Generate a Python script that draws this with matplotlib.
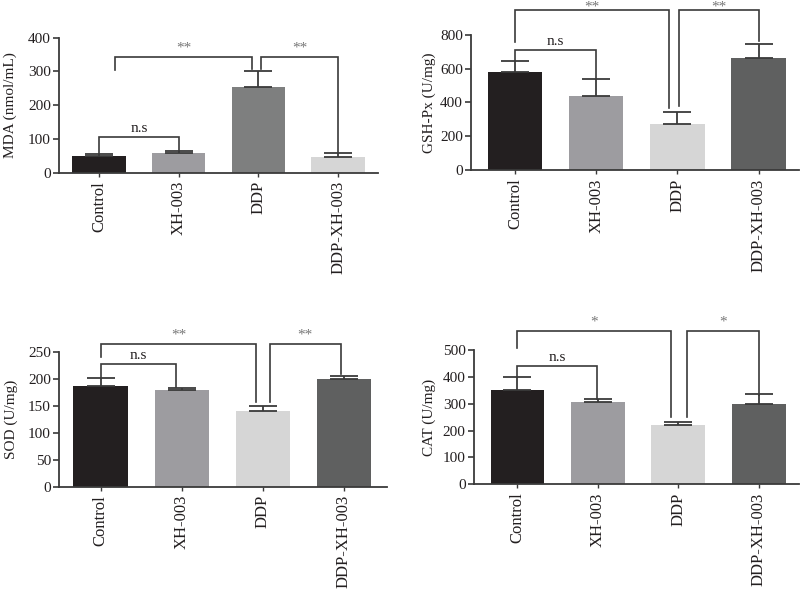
import matplotlib
matplotlib.use("Agg")
import matplotlib.pyplot as plt
import numpy as np

plt.rcParams['font.family'] = ['Liberation Serif', 'DejaVu Serif']

categories = ["Control", "XH-003", "DDP", "DDP-XH-003"]

mda_mean = [49, 58, 254, 46]
mda_err = [6, 6, 46, 13]
gsh_mean = [581, 440, 274, 665]
gsh_err = [65, 101, 71, 80]
sod_mean = [187, 178.5, 140.5, 200]
sod_err = [14, 5, 9, 5.5]
cat_mean = [351, 305, 220, 299]
cat_err = [49, 13, 13, 38]

mda_yticks = [0, 100, 200, 300, 400]
gsh_yticks = [0, 200, 400, 600, 800]
sod_yticks = [0, 50, 100, 150, 200, 250]
cat_yticks = [0, 100, 200, 300, 400, 500]

BLACK = "#231f20"
MID = "#9d9ca0"
LIGHT = "#d6d6d6"
DARK = "#5f6060"
DGRAY = "#7e7f7f"
LINE = "#3a3a3a"

panels = [
    dict(mean=mda_mean, err=mda_err, ylabel="MDA (nmol/mL)", yticks=mda_yticks,
         colors=[BLACK, MID, DGRAY, LIGHT], labelpad=8,
         rect=[0.0741, 0.7073, 0.3984, 0.2288], xlim=(-0.5, 3.5),
         brackets=[(0, 1, 107, 55, 64, "n.s"), (0.2, 1.92, 343, 304, 306, "**"),
                   (2.03, 3.0, 343, 306, 62, "**")]),
    dict(mean=gsh_mean, err=gsh_err, ylabel="GSH-Px (U/mg)", yticks=gsh_yticks,
         colors=[BLACK, MID, LIGHT, DARK], labelpad=3,
         rect=[0.589, 0.7119, 0.41, 0.2288], xlim=(-0.54, 3.5),
         brackets=[(0, 1, 711, 646, 541, "n.s"), (0, 1.9, 946, 761, 370, "**"),
                   (2.02, 3.0, 946, 379, 766, "**")]),
    dict(mean=sod_mean, err=sod_err, ylabel="SOD (U/mg)", yticks=sod_yticks,
         colors=[BLACK, MID, LIGHT, DARK], labelpad=7.5,
         rect=[0.0741, 0.1751, 0.4093, 0.2288], xlim=(-0.51, 3.53),
         brackets=[(0, 0.93, 226.7, 200.7, 185, "n.s"), (0, 1.92, 263.7, 240.7, 157, "**"),
                   (2.09, 2.96, 263.7, 157, 208.7, "**")]),
    dict(mean=cat_mean, err=cat_err, ylabel="CAT (U/mg)", yticks=cat_yticks,
         colors=[BLACK, MID, LIGHT, DARK], labelpad=5,
         rect=[0.5925, 0.1792, 0.4065, 0.2276], xlim=(-0.54, 3.5),
         brackets=[(0, 0.99, 441.6, 400, 317, "n.s"), (0, 1.91, 571, 506, 252, "*"),
                   (2.1, 3.0, 571, 252, 332, "*")]),
]

fig = plt.figure(figsize=(8, 5.9), dpi=100)

for i, p in enumerate(panels):
    ax = fig.add_axes(p["rect"])
    x = np.arange(len(categories))
    ax.bar(x, p["mean"], width=0.67, color=p["colors"], edgecolor="none", zorder=2)
    ax.errorbar(x, p["mean"], yerr=[np.zeros(len(x)), p["err"]], fmt="none",
                ecolor=LINE, elinewidth=1.3, capsize=10, capthick=1.3, zorder=3)
    ymax = p["yticks"][-1]
    ax.set_ylim(0, ymax)
    ax.set_xlim(*p["xlim"])
    ax.set_yticks(p["yticks"])
    ax.set_xticks(x)
    ax.set_xticklabels(categories, rotation=90, fontsize=12, color="#231f20")
    ax.tick_params(axis="y", labelsize=11, length=4, width=1.2, color=LINE, pad=2,
                   labelcolor="#231f20")
    ax.tick_params(axis="x", length=3, width=1.0, color=LINE, pad=3)
    ax.set_ylabel(p["ylabel"], fontsize=11, color="#231f20", labelpad=p["labelpad"])
    for s in ["top", "right"]:
        ax.spines[s].set_visible(False)
    for s in ["left", "bottom"]:
        ax.spines[s].set_color(LINE)
        ax.spines[s].set_linewidth(1.3)
    for (x1, x2, yt, b1, b2, lab) in p["brackets"]:
        ax.plot([x1, x1, x2, x2], [b1, yt, yt, b2], color=LINE, lw=1.2,
                clip_on=False, zorder=4, solid_joinstyle="miter")
        if lab == "n.s":
            ax.text((x1 + x2) / 2, yt + ymax * 0.015, lab, ha="center", va="bottom",
                    fontsize=11, color="#231f20", clip_on=False)
        elif i == 1:
            xf = ax.transData.transform(((x1 + x2) / 2, 0))[0]
            xf = fig.transFigure.inverted().transform((xf, 0))[0]
            fig.text(xf, 0.999, lab, ha="center", va="top",
                     fontsize=11, color="#777777")
        else:
            ax.text((x1 + x2) / 2, yt + ymax * 0.02, lab, ha="center", va="bottom",
                    fontsize=11, color="#777777", clip_on=False)

fig.savefig("out.png", dpi=100)
